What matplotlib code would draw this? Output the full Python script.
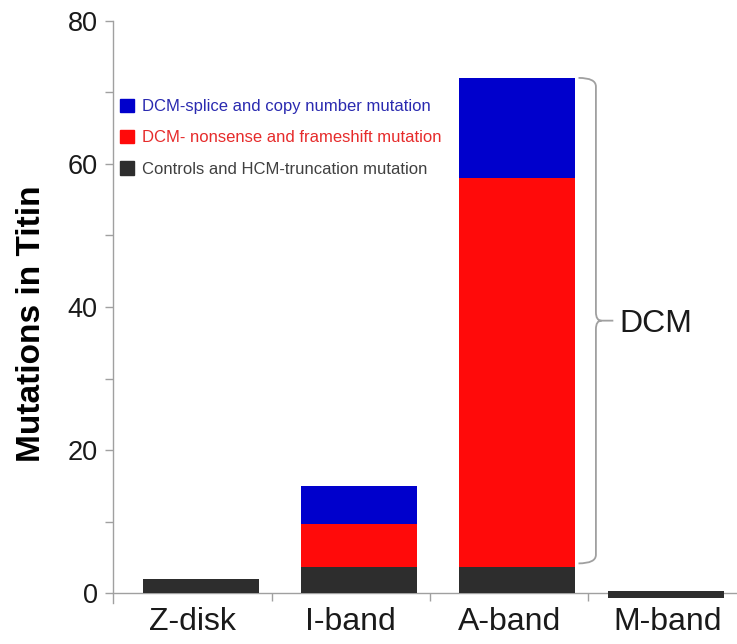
import matplotlib.pyplot as plt
from matplotlib.patches import Patch, PathPatch
from matplotlib.path import Path
import numpy as np

plt.rcParams['font.family'] = ['Liberation Sans', 'DejaVu Sans']

# data
regions = ['Z-disk', 'I-band', 'A-band', 'M-band']
controls_hcm = [2.0, 3.7, 3.7, 1.0]
dcm_nonsense = [0.0, 6.0, 54.3, 0.0]
dcm_splice = [0.0, 5.3, 14.0, 0.0]
bar_base = [0.0, 0.0, 0.0, -0.65]   # the M-band bar sits across the axis line

labels = ['DCM-splice and copy number mutation',
          'DCM- nonsense and frameshift mutation',
          'Controls and HCM-truncation mutation']
c_blue, c_red, c_black = '#0000cc', '#ff0a0a', '#2d2d2d'
grey = '#a0a0a0'

x = np.arange(len(regions))
bar_shift = np.array([0.052, 0.05, 0.047, -0.006])  # bars sit a bit right of slot centre
xb_ = x + bar_shift
w = 0.733

fig = plt.figure(figsize=(7.37, 6.44), dpi=100)
ax = fig.add_axes([0.1533, 0.064, 0.8467, 0.904])

b0 = np.array(bar_base)
b1 = b0 + np.array(controls_hcm)
b2 = b1 + np.array(dcm_nonsense)
ax.bar(xb_, controls_hcm, w, bottom=b0, color=c_black, zorder=3)
ax.bar(xb_, dcm_nonsense, w, bottom=b1, color=c_red, zorder=3)
ax.bar(xb_, dcm_splice, w, bottom=b2, color=c_blue, zorder=3)

ax.set_xlim(-0.503, 3.44)
ax.set_ylim(-1.3, 80)
for s in ['top', 'right']:
    ax.spines[s].set_visible(False)
ax.spines['bottom'].set_position(('data', 0))
ax.spines['left'].set_bounds(-1.3, 80)
for s in ['left', 'bottom']:
    ax.spines[s].set_color(grey)
    ax.spines[s].set_linewidth(1.0)

ax.set_yticks([0, 20, 40, 60, 80])
ax.set_yticks([10, 30, 50, 70], minor=True)
ax.tick_params(axis='y', which='both', direction='out', length=6, width=1,
               color=grey, labelsize=19.5, pad=5, labelcolor='#1a1a1a')
ax.set_xticks(x)
ax.set_xticklabels(regions)
ax.set_xticks(x[:-1] + 0.5, minor=True)
ax.tick_params(axis='x', which='major', length=0, pad=10, labelsize=23,
               labelcolor='#1a1a1a')
ax.tick_params(axis='x', which='minor', direction='out', length=6, width=1,
               color=grey)

ax.set_ylabel('Mutations in Titin', fontsize=24, fontweight='bold')
ax.yaxis.set_label_coords(-0.105, 0.479)

# legend
handles = [Patch(color=c_blue), Patch(color=c_red), Patch(color=c_black)]
ax.legend(handles, labels, loc='upper left', bbox_to_anchor=(0.011, 0.866),
          frameon=False, fontsize=12, handlelength=0.84, handleheight=0.84,
          handletextpad=0.48, labelspacing=0.96, borderpad=0, borderaxespad=0,
          labelcolor=['#2a2ab0', '#e62b2b', '#404040'])

# brace over the DCM part of the A-band bar
xb = xb_[2] + w / 2 + 0.025
xv = xb + 0.11
xt = xv + 0.11
top = b2[2] + dcm_splice[2]
bot = b1[2] + 0.5
mid = (top + bot) / 2
rx, ry = 0.035, 1.2
verts = [(xb, top), (xv, top), (xv, top - ry),
         (xv, mid + ry), (xv, mid), (xv + rx, mid), (xt, mid),
         (xv + rx, mid), (xv, mid), (xv, mid - ry),
         (xv, bot + ry), (xv, bot), (xb, bot)]
codes = [Path.MOVETO, Path.CURVE3, Path.CURVE3,
         Path.LINETO, Path.CURVE3, Path.CURVE3, Path.LINETO,
         Path.MOVETO, Path.CURVE3, Path.CURVE3,
         Path.LINETO, Path.CURVE3, Path.CURVE3]
ax.add_patch(PathPatch(Path(verts, codes), fill=False, edgecolor=grey, lw=1.3,
                       clip_on=False))
ax.text(xt + 0.04, mid - 0.5, 'DCM', fontsize=23, va='center', ha='left',
        color='#1a1a1a')

plt.savefig('out.png', dpi=100)
